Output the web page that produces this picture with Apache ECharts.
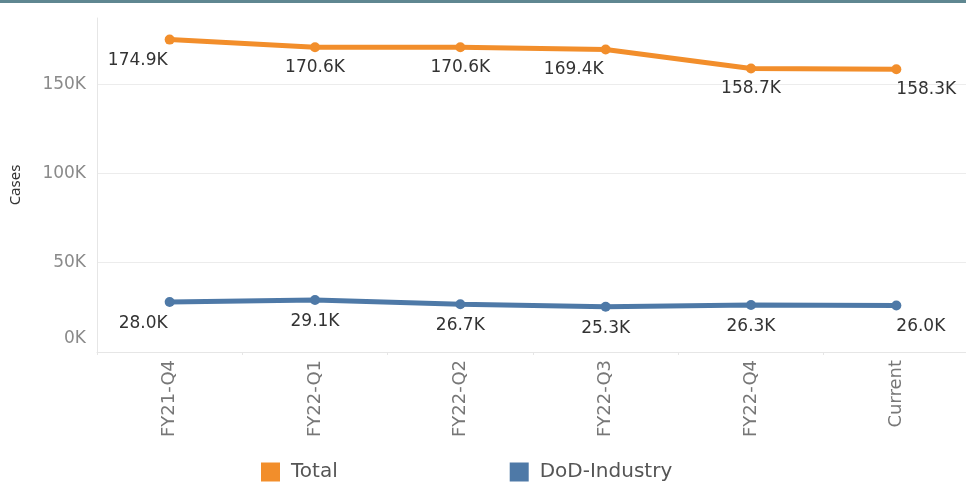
<!DOCTYPE html>
<html>
<head>
<meta charset="utf-8">
<script src="https://cdn.jsdelivr.net/npm/echarts@6/dist/echarts.min.js"></script>
<style>
  html, body { margin: 0; padding: 0; background: #fff; }
  #main { width: 966px; height: 487px; }
</style>
</head>
<body>
<div id="main"></div>
<script>
var categories = ['FY21-Q4', 'FY22-Q1', 'FY22-Q2', 'FY22-Q3', 'FY22-Q4', 'Current'];
var totalCases = [174900, 170600, 170600, 169400, 158700, 158300];
var dodIndustry = [28000, 29100, 26700, 25300, 26300, 26000];
var yTicks = [0, 50000, 100000, 150000];

var FONT = 'DejaVu Sans';
var chart = echarts.init(document.getElementById('main'));

function fmtK(v) {
    return (v / 1000).toFixed(1) + 'K';
}

// tableau pushes some labels sideways so they stay clear of the line
function labelData(values, rightIdx) {
    return values.map(function (v, i) {
        var align = 'center';
        if (rightIdx.indexOf(i) >= 0) align = 'right';
        if (i === values.length - 1) align = 'left';
        return {value: v, label: {align: align, offset: align === 'right' ? [-2, 0] : [0, 0]}};
    });
}

var labelStyle = {
    show: true,
    position: 'bottom',
    fontFamily: FONT,
    fontSize: 17,
    color: '#333',
    formatter: function (p) { return fmtK(p.value); }
};

var option = {
    backgroundColor: '#fff',
    animation: false,
    graphic: [{
        type: 'rect',
        left: 0, top: 0,
        shape: {width: 966, height: 3},
        style: {fill: '#5f8791'}
    }],
    grid: {left: 97, right: -3, top: 18, bottom: 135, outerBoundsMode: 'none'},
    legend: {
        bottom: 0,
        left: 256,
        itemGap: 172,
        icon: 'rect',
        itemWidth: 19,
        itemHeight: 19,
        textStyle: {fontFamily: FONT, fontSize: 20, color: '#555', padding: [0, 0, 0, 6]},
        data: ['Total', 'DoD-Industry']
    },
    xAxis: {
        type: 'category',
        data: categories,
        axisLine: {lineStyle: {color: '#e6e6e6'}},
        axisTick: {show: true, length: 3, lineStyle: {color: '#e6e6e6'}},
        axisLabel: {rotate: 90, margin: 8, fontFamily: FONT, fontSize: 18, color: '#777'}
    },
    yAxis: {
        type: 'value',
        min: 0,
        max: 187000,
        interval: 50000,
        name: 'Cases',
        nameLocation: 'middle',
        nameGap: 74,
        nameTextStyle: {fontFamily: 'Noto Sans', fontSize: 15, color: '#333'},
        axisLine: {show: true, lineStyle: {color: '#e6e6e6'}},
        axisTick: {show: false},
        splitLine: {show: true, showMaxLine: false, lineStyle: {color: '#ececec'}},
        axisLabel: {
            fontFamily: FONT, fontSize: 17, color: '#8a8a8a', margin: 11,
            formatter: function (v) {
                if (v === 0) return '{z|0K}';
                return yTicks.indexOf(v) >= 0 ? (v / 1000) + 'K' : '';
            },
            rich: {z: {fontFamily: FONT, fontSize: 17, color: '#8a8a8a', padding: [0, 0, 26, 0]}}
        }
    },
    series: [{
        name: 'Total',
        type: 'line',
        data: labelData(totalCases, [0, 3]),
        color: '#f28e2b',
        symbol: 'circle',
        symbolSize: 10,
        lineStyle: {width: 5},
        label: Object.assign({}, labelStyle, {distance: 7})
    }, {
        name: 'DoD-Industry',
        type: 'line',
        data: labelData(dodIndustry, [0]),
        color: '#4e79a7',
        symbol: 'circle',
        symbolSize: 10,
        lineStyle: {width: 5},
        label: Object.assign({}, labelStyle, {distance: 8})
    }]
};
chart.setOption(option);
</script>
</body>
</html>
